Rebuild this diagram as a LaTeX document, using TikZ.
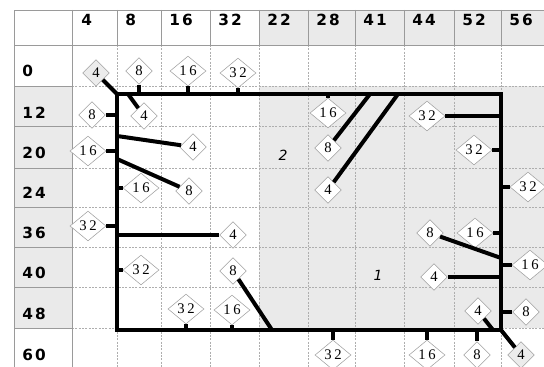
\documentclass[tikz,border=0pt]{standalone}
\usepackage{fontspec}
\setmainfont{Liberation Serif}
\newfontfamily\headfont[LetterSpace=14]{DejaVu Sans}
\newfontfamily\tagfont[LetterSpace=18]{Liberation Serif}
\newfontfamily\zonefont{DejaVu Sans}
\usetikzlibrary{shapes.geometric, calc}
\definecolor{cellgray}{HTML}{EAEAEA}
\definecolor{rule}{HTML}{9A9A9A}

\begin{document}
\begin{tikzpicture}[x=0.75pt, y=-0.75pt,
  tag/.style={diamond, draw=gray!75, fill=white, inner sep=0.5pt,
              minimum width=20pt, minimum height=20pt,
              font=\tagfont\fontsize{11}{12}\selectfont},
  wide/.style={tag, minimum width=27pt},
  shaded/.style={fill=gray!15},
  head/.style={anchor=west, inner sep=0pt, font=\headfont\bfseries\fontsize{11.5}{13}\selectfont},
  zone/.style={font=\zonefont\itshape\fontsize{10.5}{12}\selectfont},
  bar/.style={line width=3pt},
  gsolid/.style={draw=rule, line width=0.6pt},
  gdash/.style={draw=rule!80, line width=0.4pt, dash pattern=on 1.5pt off 1pt}
]
  \useasboundingbox (0,0) rectangle (544,367);

  % Shaded cells
  \fill[cellgray] (259,10) rectangle (544,45);
  \fill[cellgray] (14,86) rectangle (72,328);
  \fill[cellgray] (259,86) rectangle (544,328);

  % Grid
  \foreach \x in {117,161,210,259,308,355,404,454,501} {
    \draw[gsolid] (\x,10) -- (\x,45);
    \draw[gdash] (\x,45) -- (\x,367);
  }
  \foreach \y in {86,126,168,207,247,287,328} {
    \draw[gsolid] (14,\y) -- (72,\y);
    \draw[gdash] (72,\y) -- (544,\y);
  }
  \draw[gsolid] (14,367) -- (14,10) -- (544,10);
  \draw[gsolid] (14,45) -- (544,45);
  \draw[gsolid] (72,10) -- (72,367);

  % Column and row headers
  \foreach \x/\t in {81/4, 125/8, 169/16, 218/32, 267/22, 316/28, 363/41, 412/44, 462/52, 509/56}
    \node[head] (col\t) at (\x,20) {\t};
  \foreach \y/\t in {71/0, 113/12, 153/20, 193/24, 233/36, 273/40, 314/48, 355/60}
    \node[head] (row\t) at (22,\y) {\t};

  % Frame
  \coordinate (tl) at (117,94);
  \coordinate (tr) at (501,94);
  \coordinate (br) at (501,330);
  \coordinate (bl) at (117,330);
  \draw[bar] (tl) -- (tr) -- (br) -- (bl) -- cycle;

  % Free ends on the frame
  \coordinate (p1) at (128,94);
  \coordinate (p2) at (117,136);
  \coordinate (p3) at (117,159);
  \coordinate (p4) at (272,330);
  \coordinate (p5) at (370,94);
  \coordinate (p6) at (398,94);
  \coordinate (p7) at (501,258);
  \coordinate (p8) at (493,330);

  % Zones
  \node[zone] (z2) at (283,155) {2};
  \node[zone] (z1) at (378,275) {1};

  % Top row
  \node[tag, shaded] (t4) at (96,73) {4};
  \node[tag] (t8) at (139,71) {8};
  \node[wide] (t16) at (188,71) {16};
  \node[wide] (t32) at (238,73) {32};

  % Left column
  \node[tag] (l8) at (92,115) {8};
  \node[wide] (l16) at (88,151) {16};
  \node[wide] (l32) at (88,226) {32};

  % Left part
  \node[tag] (a4) at (144,116) {4};
  \node[tag] (b4) at (193,147) {4};
  \node[tag] (b8) at (189,191) {8};
  \node[wide] (s16) at (141,188) {16};
  \node[tag] (c4) at (233,235) {4};
  \node[wide] (s32) at (141,270) {32};
  \node[tag] (c8) at (233,271) {8};
  \node[wide] (e32) at (186,309) {32};
  \node[wide] (e16) at (232,310) {16};

  % Right part
  \node[wide] (f16) at (328,113) {16};
  \node[tag] (f8) at (328,148) {8};
  \node[tag] (f4) at (328,190) {4};
  \node[wide] (g32) at (427,116) {32};
  \node[wide] (h32) at (474,150) {32};
  \node[tag] (h8) at (430,233) {8};
  \node[wide] (h16) at (475,233) {16};
  \node[tag] (h4) at (434,277) {4};
  \node[tag] (k4) at (478,311) {4};

  % Right column
  \node[wide] (r32) at (528,187) {32};
  \node[wide] (r16) at (530,265) {16};
  \node[tag] (r8) at (526,312) {8};

  % Bottom row
  \node[wide] (u32) at (333,355) {32};
  \node[wide] (u16) at (427,355) {16};
  \node[tag] (u8) at (477,355) {8};
  \node[tag, shaded] (u4) at (521,355) {4};

  % Connectors -- top
  \draw[bar] (t4) -- (tl);
  \draw[bar] (t8.south) -- (t8.south |- tl);
  \draw[bar] (t16.south) -- (t16.south |- tl);
  \draw[bar] (t32.south) -- (t32.south |- tl);

  % Connectors -- left
  \draw[bar] (l8.east) -- (l8.east -| tl);
  \draw[bar] (l16.east) -- (l16.east -| tl);
  \draw[bar] (l32.east) -- (l32.east -| tl);
  \draw[bar] (a4) -- (p1);
  \draw[bar] (b4) -- (p2);
  \draw[bar] (b8) -- (p3);
  \draw[bar] (s16.west) -- (s16.west -| tl);
  \draw[bar] (c4.west) -- (c4.west -| tl);
  \draw[bar] (s32.west) -- (s32.west -| tl);
  \draw[bar] (c8) -- (p4);
  \draw[bar] (e32.south) -- (e32.south |- bl);
  \draw[bar] (e16.south) -- (e16.south |- bl);

  % Connectors -- right
  \draw[bar] (f16.north) -- (f16.north |- tr);
  \draw[bar] (f8) -- (p5);
  \draw[bar] (f4) -- (p6);
  \draw[bar] (g32.east) -- (g32.east -| tr);
  \draw[bar] (h32.east) -- (h32.east -| tr);
  \draw[bar] (h8) -- (p7);
  \draw[bar] (h16.east) -- (h16.east -| tr);
  \draw[bar] (h4.east) -- (h4.east -| tr);
  \draw[bar] (k4) -- (p8);
  \draw[bar] (r32.west) -- (r32.west -| tr);
  \draw[bar] (r16.west) -- (r16.west -| tr);
  \draw[bar] (r8.west) -- (r8.west -| tr);

  % Connectors -- bottom
  \draw[bar] (u32.north) -- (u32.north |- br);
  \draw[bar] (u16.north) -- (u16.north |- br);
  \draw[bar] (u8.north) -- (u8.north |- br);
  \draw[bar] (u4) -- (br);
\end{tikzpicture}
\end{document}
